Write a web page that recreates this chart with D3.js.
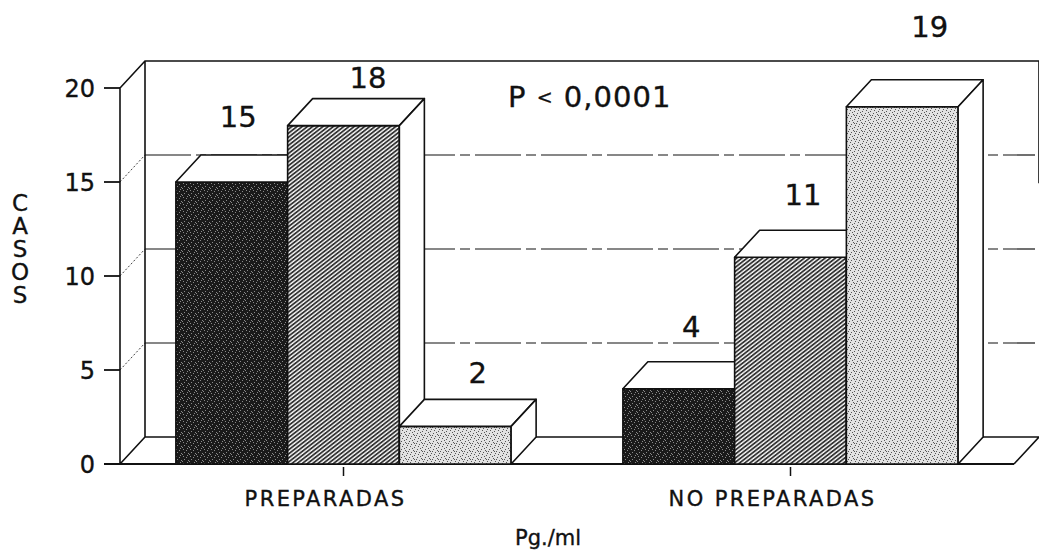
<!DOCTYPE html>
<html>
<head>
<meta charset="utf-8">
<script src="https://cdn.jsdelivr.net/npm/d3@7"></script>
<style>
  html, body { margin: 0; padding: 0; background: #fff; }
  svg text {
    font-family: "DejaVu Sans", "Liberation Sans", Arial, sans-serif;
    fill: #111;
    stroke: #111;
    stroke-width: 0.35px;
  }
</style>
</head>
<body>
<svg id="chart" width="1039" height="555"></svg>
<script>
// chart values
const groups = ['PREPARADAS', 'NO PREPARADAS'];
const series = ['bajo', 'medio', 'alto'];
const preparadas = [15, 18, 2];
const noPreparadas = [4, 11, 19];
const yTicks = [0, 5, 10, 15, 20];
const yTitle = 'CASOS';
const note = ['P ', '<', ' 0,0001'];
const xTitle = 'Pg./ml';

const rows = groups.map((g, i) => ({
  group: g,
  values: series.map((s, j) => ({ s, v: [preparadas, noPreparadas][i][j] })),
}));

const svg = d3.select('#chart');

// depth of the 3d box
const DX = 25;
const DY = -27;

const x0 = d3
  .scaleBand()
  .domain(groups)
  .range([120, 1014])
  .paddingInner(0.25)
  .paddingOuter(0.125);
const x1 = d3.scaleBand().domain(series).range([0, x0.bandwidth()]);
const y = d3.scaleLinear().domain([0, 20]).range([464, 88]);

const xL = x0.range()[0];
const xR = x0.range()[1];

// fill patterns
const defs = svg.append('defs');

const dark = defs
  .append('pattern')
  .attr('id', 'dark')
  .attr('patternUnits', 'userSpaceOnUse')
  .attr('width', 7)
  .attr('height', 7);
dark.append('rect').attr('width', 7).attr('height', 7).attr('fill', '#1a1a1a');
[[1, 1], [4, 2], [2, 4], [6, 5], [0, 6], [5, 0]].forEach(([a, b]) =>
  dark.append('rect').attr('x', a).attr('y', b).attr('width', 1).attr('height', 1).attr('fill', '#8a8a8a')
);

const hatch = defs
  .append('pattern')
  .attr('id', 'hatch')
  .attr('patternUnits', 'userSpaceOnUse')
  .attr('width', 3.2)
  .attr('height', 10)
  .attr('patternTransform', 'rotate(52)');
hatch.append('rect').attr('width', 3.2).attr('height', 10).attr('fill', '#fff');
hatch.append('line').attr('x1', 1).attr('y1', 0).attr('x2', 1).attr('y2', 10).attr('stroke', '#222').attr('stroke-width', 1.7);

const light = defs
  .append('pattern')
  .attr('id', 'light')
  .attr('patternUnits', 'userSpaceOnUse')
  .attr('width', 8)
  .attr('height', 8);
light.append('rect').attr('width', 8).attr('height', 8).attr('fill', '#e2e2e2');
[[1, 1], [5, 2], [3, 4], [7, 5], [2, 6], [6, 7], [0, 3], [4, 0], [6, 3]].forEach(([a, b]) =>
  light.append('rect').attr('x', a).attr('y', b).attr('width', 1).attr('height', 1).attr('fill', '#555')
);

const fills = { bajo: 'url(#dark)', medio: 'url(#hatch)', alto: 'url(#light)' };

// walls and floor
const frame = svg.append('g').attr('fill', 'none').attr('stroke', '#111');

// back wall grid lines
frame
  .selectAll('line.grid')
  .data(yTicks.slice(1, -1))
  .join('line')
  .attr('class', 'grid')
  .attr('x1', xL + DX)
  .attr('x2', xR + DX - 4)
  .attr('y1', (d) => y(d) + DY)
  .attr('y2', (d) => y(d) + DY)
  .attr('stroke-width', 1.2)
  .attr('stroke-dasharray', '46,5,10,5');

// side wall diagonals
frame
  .selectAll('line.side')
  .data(yTicks.slice(1, -1))
  .join('line')
  .attr('class', 'side')
  .attr('x1', xL)
  .attr('y1', (d) => y(d))
  .attr('x2', xL + DX)
  .attr('y2', (d) => y(d) + DY)
  .attr('stroke-width', 0.8)
  .attr('stroke-dasharray', '2,2');

frame
  .append('path')
  .attr('stroke-width', 1.6)
  .attr(
    'd',
    `M${xL},${y(0)}L${xL},${y(20)}L${xL + DX},${y(20) + DY}L${xR + DX},${y(20) + DY}L${xR + DX},${y(13.5) + DY}` +
      `M${xL + DX},${y(20) + DY}L${xL + DX},${y(0) + DY}L${xR + DX},${y(0) + DY}L${xR},${y(0)}` +
      `M${xL},${y(0)}L${xL + DX},${y(0) + DY}`
  );

// front floor line
frame
  .append('line')
  .attr('x1', xL - 16)
  .attr('x2', xR)
  .attr('y1', y(0))
  .attr('y2', y(0))
  .attr('stroke-width', 2);

// y axis ticks and labels
const yAxis = svg.append('g');
yAxis
  .selectAll('line')
  .data(yTicks)
  .join('line')
  .attr('x1', xL - 16)
  .attr('x2', xL)
  .attr('y1', (d) => y(d))
  .attr('y2', (d) => y(d))
  .attr('stroke', '#111')
  .attr('stroke-width', 1.8);
yAxis
  .selectAll('text')
  .data(yTicks)
  .join('text')
  .attr('x', xL - 25)
  .attr('y', (d) => y(d) + 9)
  .attr('text-anchor', 'end')
  .attr('font-size', '24px')
  .text((d) => d);

// group ticks and labels
const xAxis = svg.append('g');
xAxis
  .selectAll('line')
  .data(groups)
  .join('line')
  .attr('x1', (d) => x0(d) + x0.bandwidth() / 2)
  .attr('x2', (d) => x0(d) + x0.bandwidth() / 2)
  .attr('y1', y(0) + 3)
  .attr('y2', y(0) + 12)
  .attr('stroke', '#111')
  .attr('stroke-width', 1.5);
xAxis
  .selectAll('text')
  .data(groups)
  .join('text')
  .attr('x', (d) => x0(d) + x0.bandwidth() / 2 - 18)
  .attr('y', 506)
  .attr('text-anchor', 'middle')
  .attr('font-size', '21px')
  .attr('letter-spacing', '2.4px')
  .text((d) => d);

// bars
const labelNudge = [[-6, -3], [12, 14], [10, 9], [0, 0], [0, 0], [15, -18]];
const bars = [];
rows.forEach((r) => r.values.forEach((d) => bars.push({ group: r.group, s: d.s, v: d.v })));

const barG = svg.append('g').attr('stroke', '#111').attr('stroke-width', 1.6).attr('stroke-linejoin', 'round');
bars.forEach((d, i) => {
  const bx = x0(d.group) + x1(d.s);
  const bw = x1.bandwidth();
  const top = y(d.v);
  const bot = y(0);
  const g = barG.append('g');
  g.append('rect').attr('x', bx).attr('y', top).attr('width', bw).attr('height', bot - top).attr('fill', fills[d.s]);
  g.append('path')
    .attr('fill', '#fff')
    .attr('d', `M${bx},${top}L${bx + DX},${top + DY}L${bx + bw + DX},${top + DY}L${bx + bw},${top}Z`);
  g.append('path')
    .attr('fill', '#fff')
    .attr('d', `M${bx + bw},${top}L${bx + bw + DX},${top + DY}L${bx + bw + DX},${bot + DY}L${bx + bw},${bot}Z`);

  svg
    .append('text')
    .attr('x', bx + bw / 2 + DX / 2 + labelNudge[i][0])
    .attr('y', top + DY - 25 + labelNudge[i][1])
    .attr('text-anchor', 'middle')
    .attr('font-size', '29px')
    .text(d.v);
});

// annotation
const p = svg.append('text').attr('x', 508).attr('y', 107).attr('font-size', '29px').attr('letter-spacing', '1px');
p.append('tspan').text(note[0]);
p.append('tspan').attr('font-size', '19px').attr('dy', -3).text(note[1]);
p.append('tspan').attr('dy', 3).text(note[2]);

// axis titles
svg
  .append('text')
  .attr('x', 548)
  .attr('y', 545)
  .attr('text-anchor', 'middle')
  .attr('font-size', '21px')
  .text(xTitle);

svg
  .append('text')
  .attr('x', 20)
  .attr('y', 190)
  .attr('font-size', '23px')
  .attr('letter-spacing', '-3px')
  .style('writing-mode', 'vertical-rl')
  .style('text-orientation', 'upright')
  .text(yTitle);
</script>
</body>
</html>
